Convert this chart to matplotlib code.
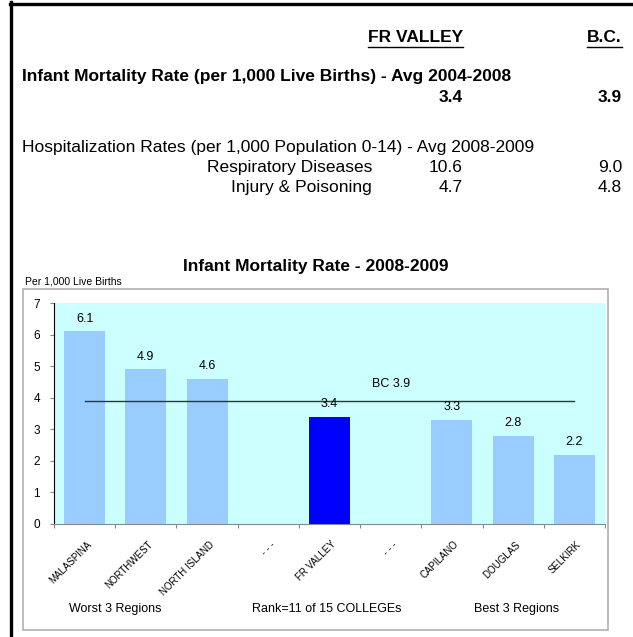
import matplotlib
matplotlib.use("Agg")
import matplotlib.pyplot as plt
from matplotlib.patches import Rectangle
from matplotlib.lines import Line2D
import numpy as np

plt.rcParams['font.family'] = ['Liberation Sans', 'DejaVu Sans']

# ---- data ----
categories = ["MALASPINA", "NORTHWEST", "NORTH ISLAND", "- - -", "FR VALLEY",
              "- - -", "CAPILANO", "DOUGLAS", "SELKIRK"]
values = [6.1, 4.9, 4.6, np.nan, 3.4, np.nan, 3.3, 2.8, 2.2]
highlight = "FR VALLEY"
bc_value = 3.9
group_labels = ["Worst 3 Regions", "Rank=11 of 15 COLLEGEs", "Best 3 Regions"]
yticks = [0, 1, 2, 3, 4, 5, 6, 7]

header_cols = ["FR VALLEY", "B.C."]
imr_label = "Infant Mortality Rate (per 1,000 Live Births) - Avg 2004-2008"
imr_vals = ["3.4", "3.9"]
hosp_label = "Hospitalization Rates (per 1,000 Population 0-14) - Avg 2008-2009"
hosp_rows = ["Respiratory Diseases", "Injury & Poisoning"]
hosp_fr = ["10.6", "4.7"]
hosp_bc = ["9.0", "4.8"]

W, H = 633, 637
fig = plt.figure(figsize=(W / 100, H / 100), dpi=100)
fig.patch.set_facecolor("white")

def fx(x):
    return x / W

def fy(y):
    return 1 - y / H

HF = 12.5
COL1, COL2 = 463, 622

# black frame (left and top)
fig.add_artist(Line2D([fx(11), fx(11)], [fy(2), fy(637)], color="black", lw=2.4, transform=fig.transFigure))
fig.add_artist(Line2D([fx(10), fx(633)], [fy(4), fy(4)], color="black", lw=2.4, transform=fig.transFigure))

# header
hdr = []
for txt, xr in zip(header_cols, [COL1, COL2]):
    hdr.append(fig.text(fx(xr), fy(38), txt, ha="right", va="center", fontsize=HF, fontweight="bold"))
fig.canvas.draw()
renderer = fig.canvas.get_renderer()
for t in hdr:
    bb = t.get_window_extent(renderer)
    x0, x1 = bb.x0 / fig.bbox.width, bb.x1 / fig.bbox.width
    fig.add_artist(Line2D([x0, x1], [fy(47), fy(47)], color="black", lw=1.0, transform=fig.transFigure))

fig.text(fx(22), fy(77), imr_label, ha="left", va="center", fontsize=HF, fontweight="bold")
fig.text(fx(COL1), fy(98), imr_vals[0], ha="right", va="center", fontsize=HF, fontweight="bold")
fig.text(fx(COL2), fy(98), imr_vals[1], ha="right", va="center", fontsize=HF, fontweight="bold")

fig.text(fx(22), fy(147), hosp_label, ha="left", va="center", fontsize=HF)
for i, (lab, a, b) in enumerate(zip(hosp_rows, hosp_fr, hosp_bc)):
    yy = 168 + 20 * i
    fig.text(fx(372), fy(yy), lab, ha="right", va="center", fontsize=HF)
    fig.text(fx(COL1), fy(yy), a, ha="right", va="center", fontsize=HF)
    fig.text(fx(COL2), fy(yy), b, ha="right", va="center", fontsize=HF)

# chart title and unit
fig.text(fx(316), fy(267), "Infant Mortality Rate - 2008-2009", ha="center", va="center",
         fontsize=HF, fontweight="bold")
fig.text(fx(25), fy(281), "Per 1,000 Live Births", ha="left", va="center", fontsize=7.5)

# chart box
fig.add_artist(Rectangle((fx(23), fy(630)), fx(608) - fx(23), fy(289) - fy(630),
                         transform=fig.transFigure, fill=False, edgecolor="#b0b0b0", lw=1.2))

# axes
ax = fig.add_axes([fx(54), fy(524), fx(605) - fx(54), fy(303) - fy(524)])
ax.set_facecolor("#CCFFFF")
x = np.arange(len(categories))
colors = ["#0000FF" if c == highlight else "#99CCFF" for c in categories]
heights = [0 if np.isnan(v) else v for v in values]
ax.bar(x, heights, width=0.67, color=colors, zorder=2)
for xi, v in zip(x, values):
    if not np.isnan(v):
        ax.text(xi, v + 0.2, f"{v:.1f}", ha="center", va="bottom", fontsize=9, zorder=4)

ax.plot([x[0], x[-1]], [bc_value, bc_value], color="#333333", lw=1.0, zorder=3)
ax.text(x[5], bc_value + 0.54, f"BC {bc_value}", ha="center", va="center", fontsize=9)

ax.set_xlim(-0.5, len(categories) - 0.5)
ax.set_ylim(0, 7)
ax.set_yticks(yticks)
ax.set_yticklabels([str(t) for t in yticks], fontsize=8.5)
ax.set_xticks(np.arange(-0.5, len(categories) + 0.5, 1.0))
ax.set_xticklabels([])
ax.set_xticks(x + 0.03, minor=True)
ax.set_xticklabels(categories, minor=True, rotation=45, ha="right", va="top", fontsize=7,
                   rotation_mode="anchor")
ax.tick_params(axis="x", which="minor", length=0, pad=11)
ax.tick_params(axis="x", which="major", length=3, color="#888888", direction="out")
ax.tick_params(axis="y", length=3, color="#888888", pad=7)
for s in ["top", "right"]:
    ax.spines[s].set_visible(False)
ax.spines["left"].set_color("black")
ax.spines["bottom"].set_color("#888888")

for lab, xc in zip(group_labels, [115, 327, 517]):
    fig.text(fx(xc), fy(609), lab, ha="center", va="center", fontsize=9)

fig.savefig("out.png", dpi=100)
